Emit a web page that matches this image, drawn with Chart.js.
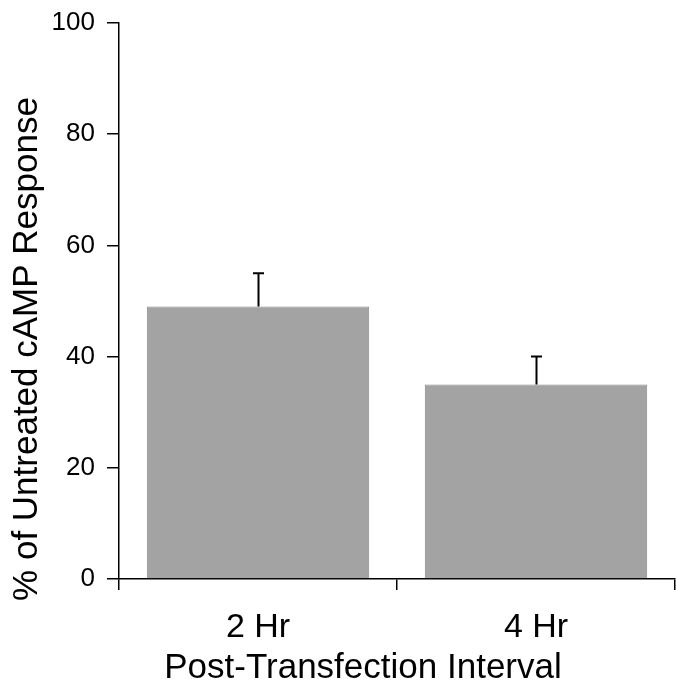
<!DOCTYPE html>
<html>
<head>
<meta charset="utf-8">
<script src="https://cdn.jsdelivr.net/npm/chart.js@4"></script>
<style>
  html, body { margin: 0; padding: 0; background: #fff; }
  #c { display: block; }
</style>
</head>
<body>
<canvas id="c" width="676" height="683"></canvas>
<script>
const categories = ["2 Hr", "4 Hr"];
const responseValues = [49, 35];
const errorValues = [6, 5];
const yTicks = [0, 20, 40, 60, 80, 100];
const xTitle = "Post-Transfection Interval";
const yTitle = "% of Untreated cAMP Response";

const FONT = '"Liberation Sans", Arial, Helvetica, sans-serif';

const errorBarPlugin = {
  id: 'errorBars',
  afterDatasetsDraw(chart) {
    const ctx = chart.ctx;
    const meta = chart.getDatasetMeta(0);
    const y = chart.scales.y;
    ctx.save();
    ctx.strokeStyle = '#000';
    ctx.lineWidth = 2;
    meta.data.forEach((bar, i) => {
      const x = Math.round(bar.x) + 0.5;
      const y0 = y.getPixelForValue(responseValues[i]);
      const y1 = y.getPixelForValue(responseValues[i] + errorValues[i]);
      ctx.beginPath();
      ctx.moveTo(x, y0);
      ctx.lineTo(x, y1);
      ctx.moveTo(x - 5.5, y1);
      ctx.lineTo(x + 5.5, y1);
      ctx.stroke();
    });
    ctx.restore();
  }
};

const titlesPlugin = {
  id: 'axisTitles',
  afterDraw(chart) {
    const ctx = chart.ctx;
    ctx.save();
    ctx.fillStyle = '#000';
    ctx.font = '35px ' + FONT;
    ctx.textAlign = 'center';
    ctx.textBaseline = 'alphabetic';
    ctx.fillText(xTitle, 363, 678);
    ctx.translate(37, 349);
    ctx.rotate(-Math.PI / 2);
    ctx.fillText(yTitle, 0, 0);
    ctx.restore();
  }
};

new Chart(document.getElementById('c'), {
  type: 'bar',
  data: {
    labels: categories,
    datasets: [{
      data: responseValues,
      backgroundColor: '#a3a3a3',
      borderColor: '#8a8a8a',
      borderWidth: 1,
      barPercentage: 0.8,
      categoryPercentage: 1.0
    }]
  },
  options: {
    responsive: false,
    animation: false,
    devicePixelRatio: 1,
    layout: { padding: { left: 0, right: 1, top: 23, bottom: 0 } },
    plugins: { legend: { display: false }, tooltip: { enabled: false } },
    scales: {
      x: {
        offset: true,
        afterFit(scale) { scale.height = 104; scale.paddingLeft = 0; scale.paddingRight = 0; },
        grid: { offset: true, drawOnChartArea: false, drawTicks: true, tickLength: 11, color: '#000', lineWidth: 1.5 },
        border: { display: true, color: '#000', width: 1.5 },
        ticks: { color: '#000', font: { family: FONT, size: 34 }, padding: 17, maxRotation: 0 }
      },
      y: {
        min: 0,
        max: 100,
        afterFit(scale) { scale.width = 119; scale.paddingTop = 0; scale.paddingBottom = 0; },
        afterBuildTicks(scale) { scale.ticks = yTicks.map(v => ({ value: v })); },
        grid: { drawOnChartArea: false, drawTicks: true, tickLength: 12, color: '#000', lineWidth: 1.5 },
        border: { display: true, color: '#000', width: 1.5 },
        ticks: { color: '#000', font: { family: FONT, size: 26 }, padding: 12 }
      }
    }
  },
  plugins: [errorBarPlugin, titlesPlugin]
});
</script>
</body>
</html>
